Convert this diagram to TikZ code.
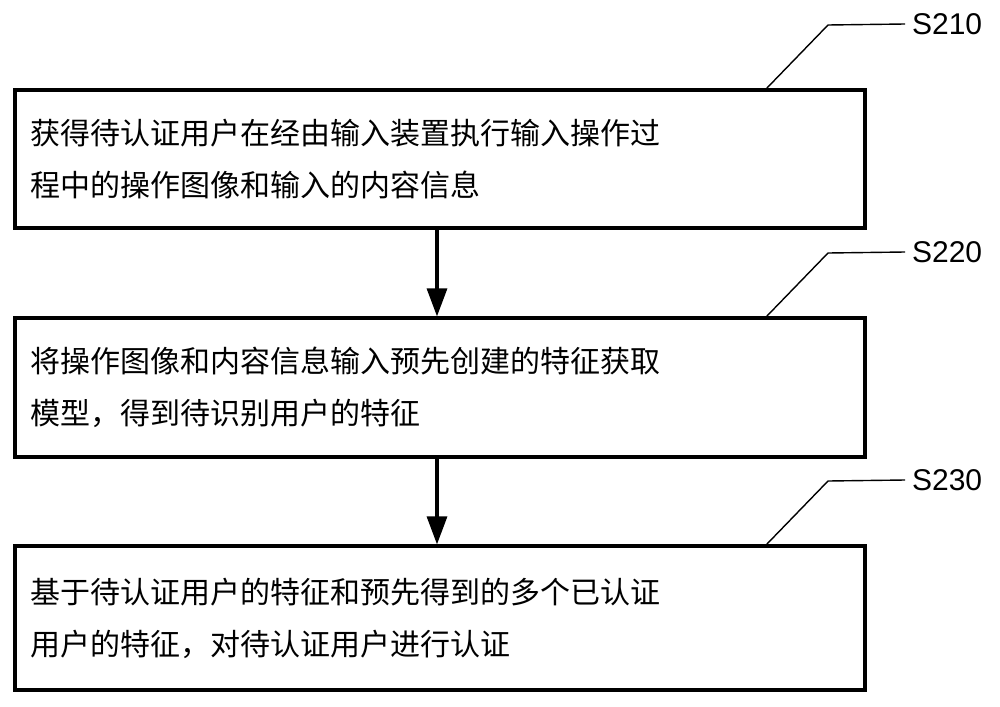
\documentclass[tikz,border=0pt]{standalone}
\usepackage{fontspec}
\setmainfont{Liberation Sans}
\newfontfamily\cjk{Noto Sans CJK SC}
\usetikzlibrary{arrows.meta,positioning}
\tikzset{
  stepbox/.style={draw,line width=1.6pt,minimum width=425pt,minimum height=69pt,
    text width=410pt,align=left,font=\cjk\fontsize{15}{26}\selectfont},
  lead/.style={line width=0.7pt},
  tag/.style={anchor=west,font=\fontsize{15}{18}\selectfont}
}
\begin{document}
\begin{tikzpicture}[x=0.5pt,y=-0.5pt]
  \useasboundingbox (0,0) rectangle (1000,706);
  \node[stepbox] (s1) at (440,159) {获得待认证用户在经由输入装置执行输入操作过\\程中的操作图像和输入的内容信息};
  \node[stepbox,minimum height=69.5pt] (s2) at (440,387.5) {将操作图像和内容信息输入预先创建的特征获取\\模型，得到待识别用户的特征};
  \node[stepbox,minimum height=72pt] (s3) at (440,618) {基于待认证用户的特征和预先得到的多个已认证\\用户的特征，对待认证用户进行认证};
  % step labels
  \node[tag] (t1) at (905,24) {S210};
  \node[tag] (t2) at (905,252) {S220};
  \node[tag] (t3) at (905,480) {S230};
  \coordinate (b1) at (828,25);
  \coordinate (b2) at (828,253);
  \coordinate (b3) at (828,481);
  \draw[lead] (s1.north east) ++(-100,0) -- (b1) -- (t1.west);
  \draw[lead] (s2.north east) ++(-100,0) -- (b2) -- (t2.west);
  \draw[lead] (s3.north east) ++(-100,0) -- (b3) -- (t3.west);
  % flow
  \draw[line width=1.6pt,-{Triangle[length=14pt,width=10pt]}] (s1.south -| 437,0) -- (s2.north -| 437,0);
  \draw[line width=1.6pt,-{Triangle[length=14pt,width=10pt]}] (s2.south -| 437,0) -- (s3.north -| 437,0);
\end{tikzpicture}
\end{document}
